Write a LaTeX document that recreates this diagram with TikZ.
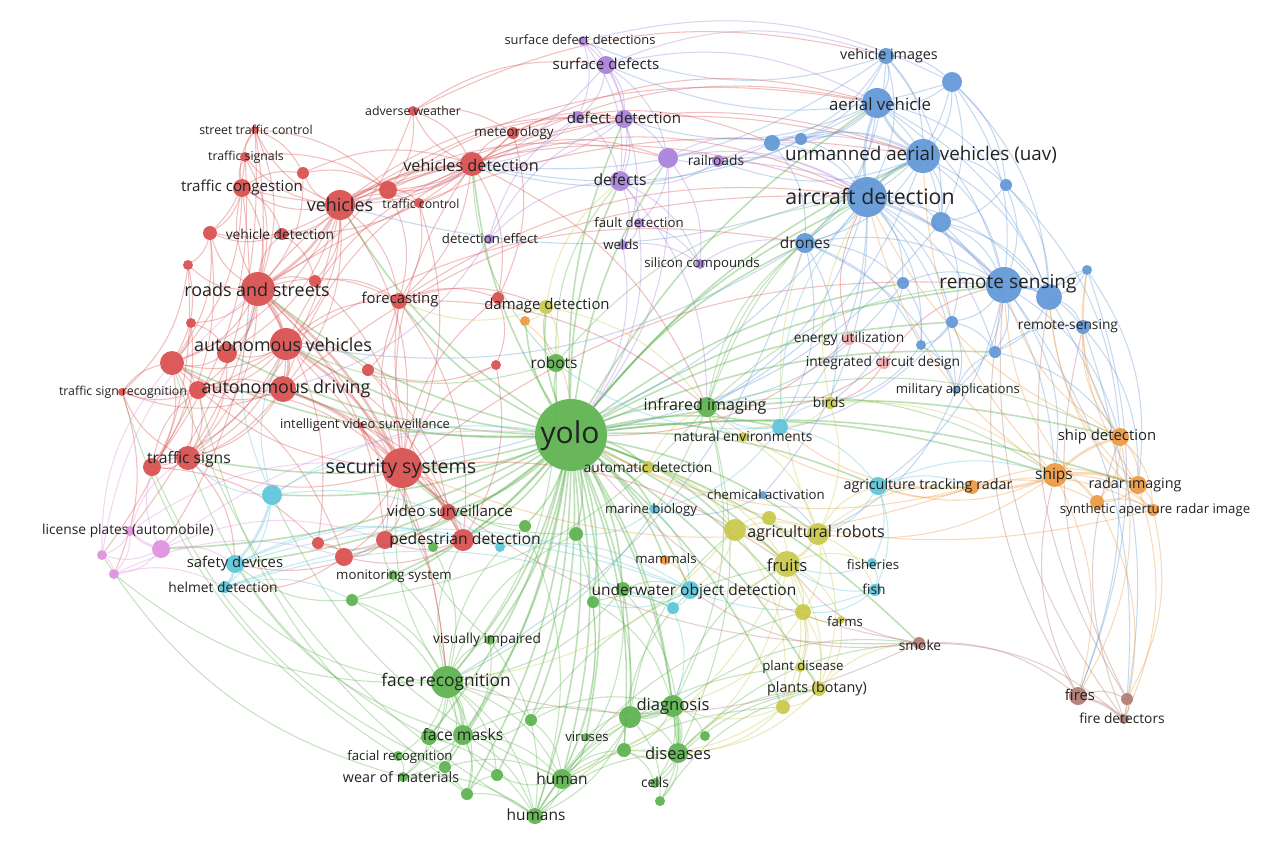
\documentclass[tikz,border=0pt]{standalone}
\usepackage{fontspec}
\setmainfont{Open Sans}
\usetikzlibrary{backgrounds}
\definecolor{cR}{RGB}{217,78,78}
\definecolor{cRp}{RGB}{240,168,168}
\definecolor{cG}{RGB}{92,178,78}
\definecolor{cB}{RGB}{96,150,214}
\definecolor{cY}{RGB}{200,200,72}
\definecolor{cP}{RGB}{168,128,218}
\definecolor{cC}{RGB}{92,196,218}
\definecolor{cO}{RGB}{236,152,62}
\definecolor{cN}{RGB}{176,122,116}
\definecolor{cK}{RGB}{224,144,222}
\definecolor{txt}{RGB}{34,34,34}
\tikzset{
  kw/.style={circle,inner sep=0pt,draw=none,fill opacity=0.92},
  lbl/.style={inner sep=0pt,text=txt},
  ed/.style={line width=1.05pt,draw opacity=0.36,bend left=20},
  edT/.style={line width=1.6pt,draw opacity=0.4,bend left=12},
  edS/.style={line width=2.6pt,draw opacity=0.35,bend left=12},
}
\newcommand\kwn[5]{\node[kw,fill=#5,minimum size=#4pt*2] (#1) at (#2,#3) {};}
\newcommand\lab[5]{\pgfmathsetmacro\labfs{#4*1.12}\node[lbl,font=\fontsize{\labfs}{\labfs}\selectfont] (#1) at (#2,#3) {#5};}
\begin{document}
\begin{tikzpicture}[x=1pt,y=-1pt]
\useasboundingbox (0,0) rectangle (1286,844);
% ---------- red
\kwn{r1}{340}{205}{15}{cR}
\kwn{r2}{258}{289}{17}{cR}
\kwn{r3}{286}{344}{16}{cR}
\kwn{r4}{283}{389}{13}{cR}
\kwn{r5}{402}{468}{20}{cR}
\kwn{r6}{472}{164}{12}{cR}
\kwn{r7}{242}{188}{9}{cR}
\kwn{r8}{245}{157}{5}{cR}
\kwn{r9}{255}{130}{4}{cR}
\kwn{r10}{413}{111}{5}{cR}
\kwn{r11}{513}{133}{6}{cR}
\kwn{r12}{419}{203}{5}{cR}
\kwn{r13}{282}{234}{6}{cR}
\kwn{r14}{303}{173}{6}{cR}
\kwn{r15}{388}{190}{9}{cR}
\kwn{r16}{210}{233}{7}{cR}
\kwn{r17}{188}{265}{5}{cR}
\kwn{r18}{315}{281}{6}{cR}
\kwn{r19}{191}{323}{5}{cR}
\kwn{r20}{227}{353}{10}{cR}
\kwn{r21}{172}{363}{12}{cR}
\kwn{r22}{198}{390}{9}{cR}
\kwn{r23}{122}{392}{4}{cR}
\kwn{r24}{399}{301}{8}{cR}
\kwn{r25}{368}{370}{6}{cR}
\kwn{r26}{498}{298}{6}{cR}
\kwn{r27}{496}{365}{5}{cR}
\kwn{r28}{361}{425}{3}{cR}
\kwn{r29}{188}{458}{12}{cR}
\kwn{r30}{152}{467}{9}{cR}
\kwn{r31}{448}{512}{8}{cR}
\kwn{r32}{463}{540}{11}{cR}
\kwn{r33}{385}{540}{9}{cR}
\kwn{r34}{318}{543}{6}{cR}
\kwn{r35}{344}{557}{9}{cR}
\kwn{r36}{849}{339}{6}{cRp}
\kwn{r37}{884}{363}{6}{cRp}
% ---------- purple
\kwn{p1}{583}{41}{5}{cP}
\kwn{p2}{606}{65}{9}{cP}
\kwn{p3}{624}{119}{9}{cP}
\kwn{p4}{578}{117}{6}{cP}
\kwn{p5}{668}{158}{10}{cP}
\kwn{p6}{718}{161}{6}{cP}
\kwn{p7}{620}{181}{10}{cP}
\kwn{p8}{639}{223}{5}{cP}
\kwn{p9}{623}{245}{5}{cP}
\kwn{p10}{700}{264}{5}{cP}
\kwn{p11}{489}{239}{5}{cP}
% ---------- blue
\kwn{b1}{886}{56}{8}{cB}
\kwn{b2}{952}{82}{10}{cB}
\kwn{b3}{877}{103}{15}{cB}
\kwn{b4}{772}{143}{8}{cB}
\kwn{b5}{801}{139}{6}{cB}
\kwn{b6}{923}{156}{17}{cB}
\kwn{b7}{1006}{185}{6}{cB}
\kwn{b8}{867}{197}{20}{cB}
\kwn{b9}{941}{222}{10}{cB}
\kwn{b10}{805}{243}{10}{cB}
\kwn{b11}{1087}{270}{5}{cB}
\kwn{b12}{903}{283}{6}{cB}
\kwn{b13}{1004}{285}{18}{cB}
\kwn{b14}{1049}{297}{13}{cB}
\kwn{b15}{1083}{327}{7}{cB}
\kwn{b16}{952}{322}{6}{cB}
\kwn{b17}{921}{345}{5}{cB}
\kwn{b18}{995}{352}{6}{cB}
\kwn{b19}{956}{390}{4}{cB}
\kwn{b20}{763}{495}{4}{cB}
% ---------- green
\kwn{g1}{571}{435}{36}{cG}
\kwn{g2}{556}{363}{9}{cG}
\kwn{g3}{707}{407}{10}{cG}
\kwn{g4}{525}{526}{6}{cG}
\kwn{g5}{576}{534}{7}{cG}
\kwn{g6}{393}{575}{5}{cG}
\kwn{g7}{433}{547}{5}{cG}
\kwn{g8}{352}{600}{6}{cG}
\kwn{g9}{623}{589}{7}{cG}
\kwn{g10}{593}{602}{6}{cG}
\kwn{g11}{490}{640}{5}{cG}
\kwn{g12}{447}{682}{16}{cG}
\kwn{g13}{531}{720}{6}{cG}
\kwn{g14}{673}{706}{11}{cG}
\kwn{g15}{630}{717}{11}{cG}
\kwn{g16}{463}{735}{10}{cG}
\kwn{g17}{429}{737}{8}{cG}
\kwn{g18}{586}{737}{4}{cG}
\kwn{g19}{705}{736}{5}{cG}
\kwn{g20}{624}{750}{7}{cG}
\kwn{g21}{678}{753}{10}{cG}
\kwn{g22}{398}{756}{5}{cG}
\kwn{g23}{445}{767}{6}{cG}
\kwn{g24}{403}{777}{5}{cG}
\kwn{g25}{497}{775}{6}{cG}
\kwn{g26}{562}{779}{10}{cG}
\kwn{g27}{655}{783}{5}{cG}
\kwn{g28}{467}{794}{6}{cG}
\kwn{g29}{660}{801}{5}{cG}
\kwn{g30}{535}{816}{8}{cG}
% ---------- yellow
\kwn{y1}{546}{307}{7}{cY}
\kwn{y2}{648}{467}{6}{cY}
\kwn{y3}{743}{437}{5}{cY}
\kwn{y4}{830}{403}{6}{cY}
\kwn{y5}{769}{518}{7}{cY}
\kwn{y6}{735}{530}{11}{cY}
\kwn{y7}{818}{534}{11}{cY}
\kwn{y8}{787}{564}{13}{cY}
\kwn{y9}{803}{612}{8}{cY}
\kwn{y10}{841}{620}{4}{cY}
\kwn{y11}{800}{667}{5}{cY}
\kwn{y12}{819}{689}{7}{cY}
\kwn{y13}{783}{707}{7}{cY}
% ---------- cyan
\kwn{c1}{272}{495}{10}{cC}
\kwn{c2}{235}{564}{9}{cC}
\kwn{c3}{225}{587}{6}{cC}
\kwn{c4}{500}{547}{5}{cC}
\kwn{c5}{780}{427}{8}{cC}
\kwn{c6}{878}{486}{9}{cC}
\kwn{c7}{654}{509}{5}{cC}
\kwn{c8}{690}{590}{9}{cC}
\kwn{c9}{673}{608}{6}{cC}
\kwn{c10}{872}{563}{5}{cC}
\kwn{c11}{875}{590}{6}{cC}
% ---------- orange
\kwn{o1}{1120}{437}{9}{cO}
\kwn{o2}{1055}{475}{12}{cO}
\kwn{o3}{972}{487}{7}{cO}
\kwn{o4}{1138}{485}{9}{cO}
\kwn{o5}{1097}{502}{7}{cO}
\kwn{o6}{1153}{510}{6}{cO}
\kwn{o7}{525}{321}{5}{cO}
\kwn{o8}{665}{560}{5}{cO}
% ---------- brown
\kwn{n1}{919}{643}{6}{cN}
\kwn{n2}{1078}{696}{9}{cN}
\kwn{n3}{1127}{699}{6}{cN}
\kwn{n4}{1124}{719}{5}{cN}
% ---------- pink
\kwn{k1}{130}{531}{5}{cK}
\kwn{k2}{161}{549}{9}{cK}
\kwn{k3}{102}{555}{5}{cK}
\kwn{k4}{114}{574}{5}{cK}

\begin{scope}[on background layer]
\fill[white] (0,0) rectangle (1286,844);
% strong links
\foreach \a/\b/\c in {r1/r2/cR,r2/r3/cR,r3/r4/cR,r3/r5/cR,r4/r5/cR,r2/r5/cR,r1/r6/cR,r5/r32/cR,b8/b6/cB,b6/b3/cB,b8/b13/cB,b13/b14/cB,b8/b3/cB,g12/g16/cG,g14/g21/cG,g14/g15/cG,o2/o1/cO,o2/o4/cO,o2/o3/cO,y7/y8/cY,y6/y8/cY,k2/k1/cK,c1/c2/cC,c2/c3/cC,n2/n4/cN}
  \draw[edS,draw=\c] (\a) to (\b);
% yolo edges
\foreach \b in {r1,r2,r3,r4,r5,r6,r24,r31,r32,r33,r35,r29,r21,r20,p5,p7,p3,b3,b6,b8,b10,b13,b12,b16,b18,g2,g3,g4,g5,g6,g8,g9,g10,g11,g12,g13,g14,g15,g16,g17,g18,g20,g21,g23,g25,g26,g28,g30,y1,y2,y3,y6,y7,y8,y9,y12,y13,c1,c2,c5,c6,c7,c8,o1,o2,o4,o7,o8,n1,k2}
  \draw[edT,draw=cG] (g1) to (\b);
% green
\foreach \a/\b in {g12/g16,g12/g17,g12/g22,g12/g24,g12/g23,g12/g28,g12/g30,g12/g26,g12/g11,g12/g13,g12/g25,g16/g17,g16/g22,g16/g24,g16/g26,g16/g30,g16/g28,g14/g15,g14/g21,g14/g20,g14/g19,g14/g27,g14/g29,g15/g21,g15/g26,g15/g30,g21/g27,g21/g29,g21/g20,g26/g30,g26/g25,g26/g20,g26/g21,g26/g14,g18/g14,g18/g26,g13/g26,g13/g14,g11/g30,g3/g14,g3/g21,g3/g12,g9/g12,g9/g26,g10/g30,g8/g12,g8/g16,g6/g12,g2/g12,g5/g26,g4/g30,g30/g21,g30/g14,g28/g25,g23/g24,g22/g24,g17/g24,g12/g5,g12/g4,g3/g8,g12/r5,g12/r32,g3/b8,g3/b13,g14/y8,g21/y12,g2/r3,g5/g15,g10/g14,g9/g21,g16/g15,g17/g30,g24/g30,g22/g28,g15/g29,g20/g27,g12/k4,g12/c3,g16/c2,g24/k3,g22/r23,g17/r29,g28/r22,g30/r21,g23/r30,g26/c1,g30/y13,g29/y12,g21/n1,g14/n1,g26/y11,g30/y9,g27/y12,g13/y8,g15/y6,g20/c8,g3/b6,g3/b10,g3/o2,g3/o1,g2/b8,g2/r6,g4/r5,g5/r5,g9/c8,g10/c9,g11/r5,g13/g16,g25/g16,g28/g30,g23/g26,g11/g16,g7/r5,g7/g12,g6/r33,g8/c2,g2/p7,g2/y1}
  \draw[ed,draw=cG] (\a) to (\b);
% red
\foreach \a/\b in {r1/r3,r1/r4,r1/r7,r1/r8,r1/r9,r1/r12,r1/r13,r1/r14,r1/r15,r1/r16,r1/r18,r1/r20,r1/r21,r1/r24,r1/r5,r1/r29,r2/r4,r2/r6,r2/r7,r2/r13,r2/r16,r2/r17,r2/r18,r2/r19,r2/r20,r2/r21,r2/r22,r2/r24,r2/r29,r2/r33,r3/r20,r3/r21,r3/r22,r3/r23,r3/r24,r3/r25,r3/r29,r3/r30,r3/r6,r3/r32,r4/r21,r4/r22,r4/r23,r4/r29,r4/r30,r4/r32,r4/r6,r5/r6,r5/r24,r5/r28,r5/r31,r5/r33,r5/r34,r5/r35,r5/r29,r5/r21,r5/r27,r5/r26,r6/r10,r6/r11,r6/r12,r6/r15,r6/r24,r6/r7,r6/r26,r6/r13,r7/r8,r7/r9,r7/r14,r7/r16,r7/r21,r8/r9,r9/r14,r9/r15,r10/r11,r10/r15,r10/r2,r11/r15,r11/r26,r16/r17,r16/r21,r17/r21,r19/r21,r21/r22,r21/r29,r21/r30,r22/r23,r22/r29,r29/r30,r29/r23,r31/r32,r31/r33,r32/r33,r32/r35,r33/r34,r34/r35,r24/r25,r24/r32,r15/r12,r25/r5,r28/r31,r7/r2,r9/r2,r8/r2,r6/b8,r6/b6,r15/b6,r11/p3,r1/b8,r5/b13,r36/b8,r37/b13,r36/g1,r37/g3,r6/g3,r24/g3,r2/g12,r3/g12,r5/y8,r10/p2,r11/b4,r1/p5,r24/y1,r2/r34,r21/r35,r30/r34,r6/b3,r10/b1,r11/b3,r6/p5,r15/p3,r1/p3,r14/r15,r7/r13,r13/r16,r18/r24,r12/r24,r24/r26,r26/r27,r27/r25,r20/r21,r19/r20,r22/r4,r23/r21,r30/r22,r33/r35,r31/r24,r32/c4,r29/c2,r33/c2,r35/c3,r3/b10,r4/b8,r2/b6,r1/b3,r24/b8,r36/r37,r37/y4,r9/r29,r9/k1,r8/r30,r7/k2,r17/k3,r16/r30,r23/k4,r17/r23,r14/r2,r8/r16,r13/r18,r15/r24,r12/r5,r18/r5,r20/r29,r19/r30,r22/r5,r25/r31,r27/r32,r28/r33,r10/r6,r11/r1,r14/r6,r8/r15}
  \draw[ed,draw=cR] (\a) to (\b);
% purple
\foreach \a/\b in {p1/p2,p1/p3,p1/p7,p2/p3,p2/p7,p2/p5,p2/p4,p3/p5,p3/p7,p3/p4,p5/p7,p5/p6,p5/p8,p7/p8,p7/p9,p8/p9,p7/p10,p5/p10,p3/p9,p11/p7,p11/p3,p5/b4,p5/b8,p6/b6,p2/b3,p3/r6,p1/b2,p2/r1,p11/r4,p4/r6,p7/g3,p9/g1,p6/b13,p1/p4,p4/p7,p6/p7,p8/p10,p9/p10,p11/p4,p2/b1,p6/b8,p5/g1,p10/b10,p8/g1}
  \draw[ed,draw=cP] (\a) to (\b);
% blue
\foreach \a/\b in {b1/b2,b1/b3,b1/b6,b1/b8,b1/b9,b1/b4,b2/b3,b2/b6,b2/b8,b2/b13,b2/b7,b3/b4,b3/b5,b3/b10,b3/b9,b3/b13,b4/b5,b4/b6,b4/b8,b5/b8,b6/b7,b6/b9,b6/b10,b6/b13,b6/b14,b7/b13,b7/b14,b8/b9,b8/b10,b8/b12,b8/b14,b8/b16,b8/b17,b8/b18,b8/b19,b9/b13,b9/b14,b10/b12,b10/b17,b11/b13,b11/b14,b12/b13,b13/b15,b13/b16,b13/b18,b14/b15,b14/b18,b16/b18,b17/b19,b16/b19,b10/b19,b8/b20,b13/b19,b8/g3,b6/g3,b8/c5,b13/o2,b13/o1,b15/o4,b10/y4,b4/r6,b12/y4,b20/y7,b10/g12,b8/r5,b6/r1,b10/r3,b13/c6,b9/g1,b3/r6,b20/c7,b19/y7,b1/p1,b2/p2,b1/r6,b3/p3,b5/p5,b6/p6,b11/n2,b14/n4,b13/n3,b15/n2,b18/o1,b17/y4,b16/y3,b12/g3,b10/c5,b9/o2,b7/o1,b11/o4,b3/b7,b2/b9,b1/b5,b5/b6,b4/b10,b10/b13,b12/b17,b16/b17,b18/b15,b19/b18,b14/b11,b9/b16,b2/b14,b3/b14,b1/b10,b7/b9}
  \draw[ed,draw=cB] (\a) to (\b);
% yellow
\foreach \a/\b in {y1/r26,y1/o7,y1/g2,y6/y7,y6/y5,y7/y5,y8/y9,y8/y10,y8/y11,y8/y12,y8/y13,y9/y12,y9/y13,y11/y12,y12/y13,y10/y12,y7/y9,y7/y12,y4/y7,y3/y7,y2/y6,y2/y8,y6/y13,y5/y8,y7/c6,y8/c10,y13/g14,y12/g21,y8/g21,y9/g14,y3/g3,y4/c5,y7/c11,y6/g12,y8/g26,y1/p7,y4/b8,y13/g20,y11/y13,y1/r24,y1/g3,y2/g3,y6/c8,y7/b10,y8/c8,y9/y11,y10/y9,y13/g21,y12/n1,y3/c5,y4/o2,y7/o3}
  \draw[ed,draw=cY] (\a) to (\b);
% cyan
\foreach \a/\b in {c1/c3,c1/r5,c1/r29,c2/r32,c3/c8,c2/c4,c4/c8,c5/c6,c6/c10,c6/c11,c10/c11,c7/c8,c8/c9,c8/g9,c5/g3,c6/y7,c11/c8,c5/c7,c1/g1,c3/g8,c1/r2,c1/r3,c5/b8,c6/o2,c11/y8,c9/g14,c1/c4,c2/c8,c3/c9,c5/y4,c6/o3,c10/y8,c11/y9,c7/g5,c8/g10,c5/g2}
  \draw[ed,draw=cC] (\a) to (\b);
% orange
\foreach \a/\b in {o1/o4,o1/o5,o1/o6,o2/o5,o2/o6,o3/o4,o3/o5,o3/o6,o4/o5,o4/o6,o5/o6,o3/g1,o1/b13,o4/b14,o2/b8,o2/c6,o3/g3,o1/n2,o4/n4,o2/n2,o8/c8,o7/g1,o3/c5,o2/y7,o5/b13,o6/g1,o3/r5,o2/b6,o1/b15,o1/b11,o4/b11,o6/b14,o3/c6,o5/n4,o6/n3,o1/b8}
  \draw[ed,draw=cO] (\a) to (\b);
% brown
\foreach \a/\b in {n1/n2,n1/n4,n2/n3,n3/n4,n1/g1,n1/y8,n2/b13,n3/b15,n4/o1,n1/c8,n2/o2,n1/g12,n3/b14,n4/b13,n1/r5}
  \draw[ed,draw=cN] (\a) to (\b);
% pink
\foreach \a/\b in {k1/k3,k1/k4,k2/k3,k2/k4,k3/k4,k1/r29,k2/r30,k2/c2,k1/r5,k2/r33,k4/c3,k3/r21,k2/g1,k4/r35,k3/r2}
  \draw[ed,draw=cK] (\a) to (\b);
\end{scope}

% ---------- labels
\lab{t-yolo}{570}{436}{26.8}{yolo}
\lab{t-r1}{340}{205}{16}{vehicles}
\lab{t-r2}{257}{290}{16}{roads and streets}
\lab{t-r3}{283}{345}{16}{autonomous vehicles}
\lab{t-r4}{286}{389}{16}{autonomous driving}
\lab{t-r5}{401}{469}{17.5}{security systems}
\lab{t-r6}{471}{165}{14.5}{vehicles detection}
\lab{t-r7}{242}{188}{13.5}{traffic congestion}
\lab{t-r8}{246}{157}{11}{traffic signals}
\lab{t-r9}{256}{130}{11}{street traffic control}
\lab{t-r10}{413}{111}{11}{adverse weather}
\lab{t-r11}{514}{133}{12}{meteorology}
\lab{t-r12}{421}{204}{11}{traffic control}
\lab{t-r13}{280}{234}{12.3}{vehicle detection}
\lab{t-r23}{123}{392}{11}{traffic sign recognition}
\lab{t-r24}{400}{300}{13.3}{forecasting}
\lab{t-r28}{365}{425}{11.5}{intelligent video surveillance}
\lab{t-r29}{189}{459}{14}{traffic signs}
\lab{t-r31}{450}{511}{13.5}{video surveillance}
\lab{t-r32}{465}{540}{14}{pedestrian detection}
\lab{t-r36}{849}{339}{12.3}{energy utilization}
\lab{t-r37}{883}{363}{12.3}{integrated circuit design}
\lab{t-p1}{580}{40}{11.5}{surface defect detections}
\lab{t-p2}{606}{64}{13.5}{surface defects}
\lab{t-p3}{624}{118}{13.5}{defect detection}
\lab{t-p6}{716}{160}{12.3}{railroads}
\lab{t-p7}{620}{180}{14}{defects}
\lab{t-p8}{639}{223}{11.8}{fault detection}
\lab{t-p9}{621}{245}{11.8}{welds}
\lab{t-p10}{702}{264}{11.8}{silicon compounds}
\lab{t-p11}{490}{239}{11.8}{detection effect}
\lab{t-b1}{889}{56}{12.8}{vehicle images}
\lab{t-b3}{880}{104}{15}{aerial vehicle}
\lab{t-b6}{921}{155}{16.8}{unmanned aerial vehicles (uav)}
\lab{t-b8}{870}{196}{19}{aircraft detection}
\lab{t-b10}{805}{243}{13.8}{drones}
\lab{t-b13}{1008}{284}{17}{remote sensing}
\lab{t-b15}{1068}{326}{12.3}{remote-sensing}
\lab{t-b19}{958}{390}{11.8}{military applications}
\lab{t-b20}{766}{495}{11.8}{chemical activation}
\lab{t-g2}{554}{363}{13.8}{robots}
\lab{t-g3}{705}{406}{14.3}{infrared imaging}
\lab{t-g6}{394}{576}{11.8}{monitoring system}
\lab{t-g11}{487}{640}{12.3}{visually impaired}
\lab{t-g12}{446}{682}{15.5}{face recognition}
\lab{t-g14}{673}{706}{14.8}{diagnosis}
\lab{t-g16}{463}{735}{14}{face masks}
\lab{t-g18}{587}{737}{11.8}{viruses}
\lab{t-g21}{678}{753}{14.8}{diseases}
\lab{t-g22}{400}{757}{11.8}{facial recognition}
\lab{t-g24}{401}{777}{12.8}{wear of materials}
\lab{t-g26}{562}{779}{13.8}{human}
\lab{t-g27}{655}{782}{12.3}{cells}
\lab{t-g30}{536}{815}{13.8}{humans}
\lab{t-y1}{547}{306}{13.3}{damage detection}
\lab{t-y2}{648}{467}{12.3}{automatic detection}
\lab{t-y3}{743}{436}{12.3}{natural environments}
\lab{t-y4}{829}{402}{12.3}{birds}
\lab{t-y7}{816}{533}{14.3}{agricultural robots}
\lab{t-y8}{787}{565}{14.8}{fruits}
\lab{t-y10}{845}{621}{11.8}{farms}
\lab{t-y11}{803}{667}{11.8}{plant disease}
\lab{t-y12}{817}{689}{12.8}{plants (botany)}
\lab{t-c2}{235}{564}{13.3}{safety devices}
\lab{t-c3}{223}{587}{12.3}{helmet detection}
\lab{t-c7}{651}{510}{11.8}{marine biology}
\lab{t-c8}{694}{591}{13.8}{underwater object detection}
\lab{t-c10}{873}{565}{11.8}{fisheries}
\lab{t-c11}{874}{589}{12.3}{fish}
\lab{t-o1}{1107}{437}{13.3}{ship detection}
\lab{t-o2}{1054}{475}{13.8}{ships}
\lab{t-o3}{928}{486}{12.8}{agriculture tracking radar}
\lab{t-o4}{1135}{485}{12.8}{radar imaging}
\lab{t-o6}{1155}{510}{11.8}{synthetic aperture radar image}
\lab{t-o8}{666}{559}{11.8}{mammals}
\lab{t-n1}{920}{645}{12.3}{smoke}
\lab{t-n2}{1080}{695}{13.3}{fires}
\lab{t-n4}{1122}{718}{12.3}{fire detectors}
\lab{t-k1}{128}{531}{12.3}{license plates (automobile)}
\end{tikzpicture}
\end{document}
